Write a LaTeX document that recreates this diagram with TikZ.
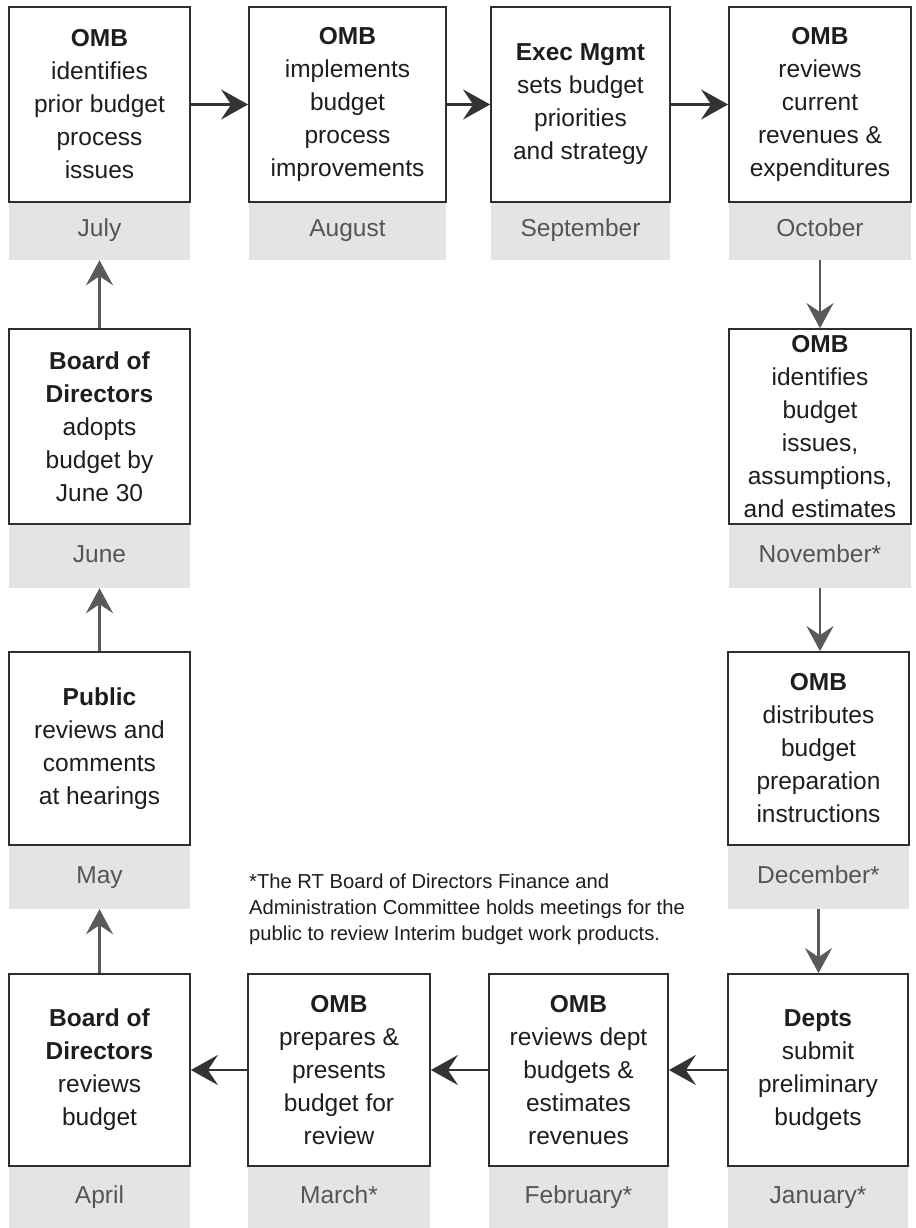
\documentclass[tikz,border=0pt]{standalone}
\usepackage{fontspec}
\setmainfont{Liberation Sans}
\usetikzlibrary{arrows.meta}
\definecolor{boxline}{HTML}{2E2E2E}
\definecolor{boxtext}{HTML}{1E1E1E}
\definecolor{band}{HTML}{E4E4E7}
\definecolor{monthtext}{HTML}{555555}
\definecolor{harrow}{HTML}{333333}
\definecolor{varrow}{HTML}{5A5A5A}
\tikzset{
  stepbox/.style={draw=boxline, line width=1.8pt, fill=white, align=center,
    inner sep=0pt, text=boxtext, font=\fontsize{24.5}{33}\selectfont},
  monthband/.style={fill=band, draw=none, inner sep=0pt, text=monthtext,
    text height=17.5pt, text depth=5pt,
    font=\fontsize{24.5}{30}\selectfont},
  harr/.style={draw=harrow, line width=2.6pt,
    -{Stealth[length=27pt, width=30pt, inset=10pt]}},
  varr/.style={draw=varrow, line width=2.6pt,
    -{Stealth[length=25pt, width=27pt, inset=9pt]}},
  note/.style={anchor=north west, align=left, inner sep=0pt, text=boxtext,
    font=\fontsize{20.2}{26}\selectfont}
}
\begin{document}
\begin{tikzpicture}[x=1pt, y=-1pt]
\fill[white] (0,0) rectangle (915,1228);
\useasboundingbox (0,0) rectangle (915,1228);

% month bands (drawn first, boxes on top)
\node[monthband, minimum width=181pt, minimum height=60pt] (julm) at (99.5,230) {July};
\node[monthband, minimum width=197pt, minimum height=60pt] (augm) at (347.5,230) {August};
\node[monthband, minimum width=179pt, minimum height=60pt] (sepm) at (580.5,230) {September};
\node[monthband, minimum width=182pt, minimum height=60pt] (octm) at (820,230) {October};
\node[monthband, minimum width=182pt, minimum height=64pt] (novm) at (820,556) {November*};
\node[monthband, minimum width=181pt, minimum height=64pt] (decm) at (818.5,877) {December*};
\node[monthband, minimum width=180pt, minimum height=62pt] (janm) at (818,1197) {January*};
\node[monthband, minimum width=179pt, minimum height=62pt] (febm) at (578.5,1197) {February*};
\node[monthband, minimum width=182pt, minimum height=62pt] (marm) at (339,1197) {March*};
\node[monthband, minimum width=181pt, minimum height=62pt] (aprm) at (99.5,1197) {April};
\node[monthband, minimum width=181pt, minimum height=64pt] (maym) at (99.5,877) {May};
\node[monthband, minimum width=181pt, minimum height=64pt] (junm) at (99.5,556) {June};

% boxes
\node[stepbox, minimum width=181pt, minimum height=195pt] (jul) at (99.5,104.5)
  {\textbf{OMB}\\identifies\\prior budget\\process\\issues};
\node[stepbox, minimum width=197pt, minimum height=195pt] (aug) at (347.5,104.5)
  {\textbf{OMB}\\implements\\budget\\process\\improvements};
\node[stepbox, minimum width=179pt, minimum height=195pt] (sep) at (580.5,104.5)
  {\textbf{Exec Mgmt}\\sets budget\\priorities\\and strategy};
\node[stepbox, minimum width=182pt, minimum height=195pt] (oct) at (820,104.5)
  {\textbf{OMB}\\reviews\\current\\revenues \&\\expenditures};
\node[stepbox, minimum width=182pt, minimum height=195pt] (nov) at (820,426.5)
  {\textbf{OMB}\\identifies\\budget\\issues,\\assumptions,\\and estimates};
\node[stepbox, minimum width=181pt, minimum height=193pt] (dec) at (818.5,748.5)
  {\textbf{OMB}\\distributes\\budget\\preparation\\instructions};
\node[stepbox, minimum width=180pt, minimum height=192pt] (jan) at (818,1070)
  {\textbf{Depts}\\submit\\preliminary\\budgets};
\node[stepbox, minimum width=179pt, minimum height=192pt] (feb) at (578.5,1070)
  {\textbf{OMB}\\reviews dept\\budgets \&\\estimates\\revenues};
\node[stepbox, minimum width=182pt, minimum height=192pt] (mar) at (339,1070)
  {\textbf{OMB}\\prepares \&\\presents\\budget for\\review};
\node[stepbox, minimum width=181pt, minimum height=192pt] (apr) at (99.5,1070)
  {\textbf{Board of}\\\textbf{Directors}\\reviews\\budget};
\node[stepbox, minimum width=181pt, minimum height=193pt] (may) at (99.5,748.5)
  {\textbf{Public}\\reviews and\\comments\\at hearings};
\node[stepbox, minimum width=181pt, minimum height=195pt] (jun) at (99.5,426.5)
  {\textbf{Board of}\\\textbf{Directors}\\adopts\\budget by\\June 30};

% footnote
\node[note] (fn) at (249,874)
  {*The RT Board of Directors Finance and\\Administration Committee holds meetings for the\\public to review Interim budget work products.};

% connectors: top row
\draw[harr] (jul.east) -- (jul.east -| aug.west);
\draw[harr] (aug.east) -- (aug.east -| sep.west);
\draw[harr] (sep.east) -- (sep.east -| oct.west);
% right column
\draw[varr] (octm.south) -- (octm.south |- nov.north);
\draw[varr] (novm.south) -- (novm.south |- dec.north);
\draw[varr] (decm.south) -- (decm.south |- jan.north);
% bottom row
\draw[harr] (jan.west) -- (jan.west -| feb.east);
\draw[harr] (feb.west) -- (feb.west -| mar.east);
\draw[harr] (mar.west) -- (mar.west -| apr.east);
% left column
\draw[varr] (apr.north) -- (apr.north |- maym.south);
\draw[varr] (may.north) -- (may.north |- junm.south);
\draw[varr] (jun.north) -- (jun.north |- julm.south);
\end{tikzpicture}
\end{document}
